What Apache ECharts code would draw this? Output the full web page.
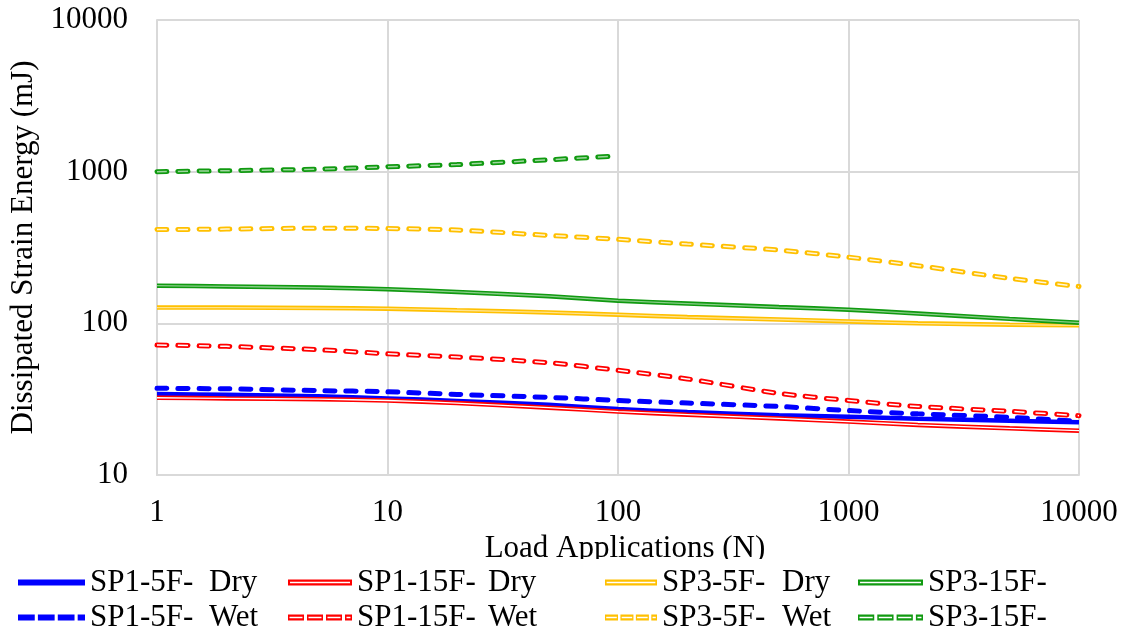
<!DOCTYPE html>
<html>
<head>
<meta charset="utf-8">
<script src="https://cdn.jsdelivr.net/npm/echarts@6/dist/echarts.min.js"></script>
<style>
  html, body { margin: 0; padding: 0; background: #ffffff; }
  #chart { width: 1124px; height: 635px; }
</style>
</head>
<body>
<div id="chart"></div>
<script>
// Load applications (N) at which dissipated strain energy was recorded
const loads = [1, 2, 5, 10, 20, 50, 100, 200, 500, 1000, 2000, 5000, 10000];

// Dissipated strain energy (mJ)
const sp1_5f_dry  = [34.2, 33.8, 33.0, 32.0, 30.8, 29.0, 27.2, 26.0, 24.8, 24.2, 23.5, 22.8, 22.3];
const sp1_15f_dry = [32.3, 32.0, 31.6, 31.0, 29.8, 27.8, 26.2, 25.0, 23.6, 22.5, 21.4, 20.3, 19.6];
const sp3_5f_dry  = [127, 127, 126, 125, 122, 118, 114, 110, 106, 103, 100, 98, 97];
const sp3_15f_dry = [177, 175, 172, 168, 161, 151, 141, 135, 128, 123, 116, 107, 101];
const sp1_5f_wet  = [37.3, 37.0, 36.0, 35.4, 34.0, 32.5, 31.0, 29.8, 28.3, 26.6, 25.3, 24.0, 22.6];
const sp1_15f_wet = [72, 70.5, 67, 63, 60, 55, 49, 43, 34.5, 31, 28.3, 26.3, 24.6];
const sp3_5f_wet  = [415, 418, 424, 422, 412, 380, 358, 333, 304, 273, 240, 198, 175];
const sp3_15f_wet = [1000, 1015, 1039, 1077, 1114, 1198, 1270];

// Series names and axis tick values
const seriesNames = [
  'SP1-5F- Dry', 'SP1-15F- Dry', 'SP3-5F- Dry', 'SP3-15F- Dry',
  'SP1-5F- Wet', 'SP1-15F- Wet', 'SP3-5F- Wet', 'SP3-15F- Wet'
];
const seriesValues = [
  sp1_5f_dry, sp1_15f_dry, sp3_5f_dry, sp3_15f_dry,
  sp1_5f_wet, sp1_15f_wet, sp3_5f_wet, sp3_15f_wet
];
const xTicks = [1, 10, 100, 1000, 10000];
const yTicks = [10, 100, 1000, 10000];

const FONT = "'Liberation Serif', 'Times New Roman', serif";
const BLUE = '#0000ff', RED = '#ff0000', GOLD = '#ffc000', GREEN = '#109a10';

// Line look per series: colour, width, dashed or not, inner stripe colour (compound line)
const looks = [
  { color: BLUE,  width: 4.5, dash: false, inner: null },
  { color: RED,   width: 4.5, dash: false, inner: '#ffffff' },
  { color: GOLD,  width: 4.5, dash: false, inner: 'rgba(255,255,255,0.55)' },
  { color: GREEN, width: 4.5, dash: false, inner: 'rgba(255,255,255,0.5)' },
  { color: BLUE,  width: 5,   dash: true,  inner: null },
  { color: RED,   width: 5,   dash: true,  inner: '#ffffff' },
  { color: GOLD,  width: 5,   dash: true,  inner: 'rgba(255,255,255,0.85)' },
  { color: GREEN, width: 5,   dash: true,  inner: 'rgba(255,255,255,0.6)' }
];

const DASH = [10, 11];

function pairs(values) {
  return values.map((v, i) => [loads[i], v]);
}

const series = [];
seriesNames.forEach((name, i) => {
  const lk = looks[i];
  const data = pairs(seriesValues[i]);
  series.push({
    name: name,
    type: 'line',
    data: data,
    color: lk.color,
    smooth: 0.25,
    symbol: 'none',
    z: 2 + i,
    lineStyle: {
      color: lk.color,
      width: lk.width,
      type: lk.dash ? DASH : 'solid',
      cap: lk.dash ? 'round' : 'butt'
    },
    emphasis: { disabled: true }
  });
  if (lk.inner) {
    series.push({
      name: name + ' inner',
      type: 'line',
      data: data,
      smooth: 0.25,
      symbol: 'none',
      z: 2 + i,
      lineStyle: {
        color: lk.inner,
        width: lk.dash ? 1.5 : 1.3,
        type: lk.dash ? DASH : 'solid',
        cap: 'butt'
      },
      emphasis: { disabled: true },
      silent: true
    });
  }
});

// Legend sample icons (filled paths, 64 x 6): solid bar, hollow bar, dashes, hollow dashes
const ICON_SOLID = 'path://M0,0H64V6H0Z';
const ICON_HOLLOW = 'path://M0,0H64V6H0Z M2,2.3V3.7H62V2.3Z';
const dashes = [[0, 16], [19, 35], [38, 54], [57, 64]];
const ICON_DASH = 'path://' + dashes.map(d => `M${d[0]},0H${d[1]}V6H${d[0]}Z`).join(' ');
const ICON_DASH_HOLLOW = 'path://' + dashes.map(d =>
  `M${d[0]},0H${d[1]}V6H${d[0]}Z M${d[0] + 1.5},2.3V3.7H${d[1] - 1.5}V2.3Z`).join(' ');
const icons = [ICON_SOLID, ICON_HOLLOW, ICON_HOLLOW, ICON_HOLLOW,
               ICON_DASH, ICON_DASH_HOLLOW, ICON_DASH_HOLLOW, ICON_DASH_HOLLOW];

// Legend layout: four columns, two rows
const colLeft = [18, 288, 605, 858];
const colIcon = [67, 64, 52, 65];
const colText = [119, 131, 120, 0];
const rowTop = [567, 602];

const legends = seriesNames.map((name, i) => {
  const col = i % 4, row = Math.floor(i / 4);
  const w = colText[col];
  return {
    data: [{ name: name, icon: icons[i] }],
    left: colLeft[col],
    top: rowTop[row],
    orient: 'horizontal',
    padding: 0,
    itemWidth: colIcon[col],
    itemHeight: 6,
    symbolKeepAspect: false,
    selectedMode: false,
    z: 20,
    itemStyle: { borderWidth: 0 },
    formatter: function (n) {
      const k = n.lastIndexOf(' ');
      const pre = n.slice(0, k), cond = n.slice(k + 1);
      return w > 0 ? `{a|${pre}}{b|${cond}}` : `{a|${pre}}`;
    },
    textStyle: {
      fontFamily: FONT,
      fontSize: 31,
      color: '#000',
      rich: {
        a: { fontFamily: FONT, fontSize: 31, color: '#000', width: w > 0 ? w : undefined },
        b: { fontFamily: FONT, fontSize: 31, color: '#000' }
      }
    }
  };
});

const chart = echarts.init(document.getElementById('chart'), null, { renderer: 'canvas' });

chart.setOption({
  animation: false,
  backgroundColor: '#ffffff',
  grid: { left: 157, right: 45, top: 20, bottom: 160, containLabel: false },
  xAxis: {
    type: 'log',
    logBase: 10,
    min: xTicks[0],
    max: xTicks[xTicks.length - 1],
    name: 'Load Applications (N)',
    nameLocation: 'middle',
    nameGap: 58,
    nameTextStyle: { fontFamily: FONT, fontSize: 31, color: '#000', padding: [0, 0, 0, 14] },
    axisLine: { show: true, lineStyle: { color: '#d9d9d9', width: 2 } },
    axisTick: { show: false },
    axisLabel: {
      fontFamily: FONT, fontSize: 31, color: '#000', margin: 22,
      formatter: v => String(Math.round(v))
    },
    splitLine: { show: true, lineStyle: { color: '#d9d9d9', width: 2 } },
    z: 0
  },
  yAxis: {
    type: 'log',
    logBase: 10,
    min: yTicks[0],
    max: yTicks[yTicks.length - 1],
    name: 'Dissipated Strain Energy (mJ)',
    nameLocation: 'middle',
    nameGap: 113,
    nameTextStyle: { fontFamily: FONT, fontSize: 31, color: '#000' },
    axisLine: { show: true, lineStyle: { color: '#d9d9d9', width: 2 } },
    axisTick: { show: false },
    axisLabel: {
      fontFamily: FONT, fontSize: 31, color: '#000', margin: 29,
      formatter: v => String(Math.round(v))
    },
    splitLine: { show: true, lineStyle: { color: '#d9d9d9', width: 2 } }
  },
  graphic: [{
    type: 'rect',
    z: 10,
    shape: { x: 0, y: 559, width: 1124, height: 76 },
    style: { fill: '#ffffff' },
    silent: true
  }],
  legend: legends,
  series: series
});
</script>
</body>
</html>
